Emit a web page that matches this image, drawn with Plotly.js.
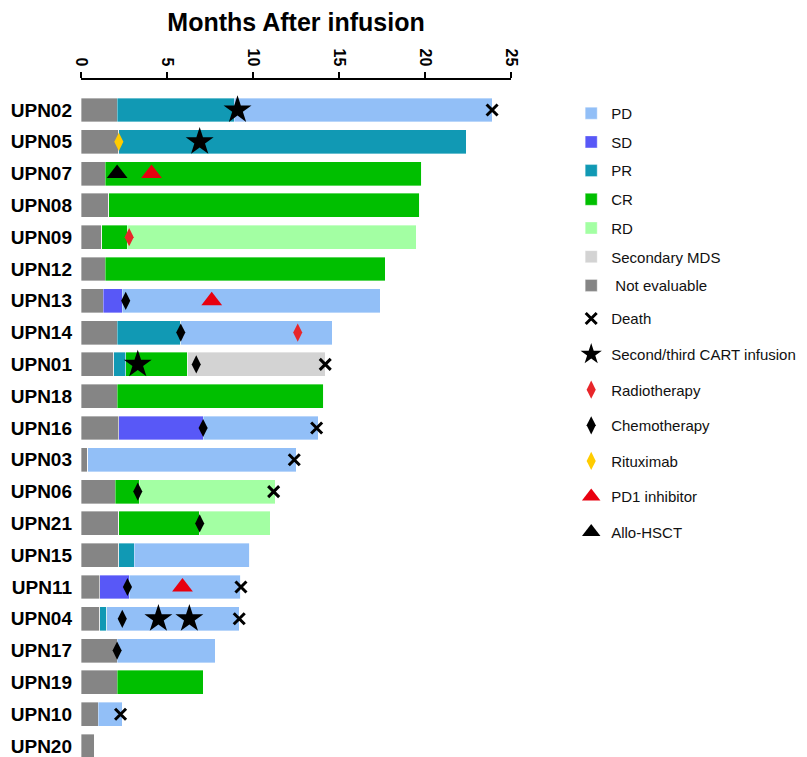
<!DOCTYPE html>
<html>
<head>
<meta charset="utf-8">
<script src="https://cdn.plot.ly/plotly-3.0.1.min.js"></script>
<style>html,body{margin:0;padding:0;background:#fff;}#chart{width:807px;height:757px;}</style>
</head>
<body>
<div id="chart"></div>
<script>
// Patients (top to bottom)
const patients = ['UPN02','UPN05','UPN07','UPN08','UPN09','UPN12','UPN13','UPN14','UPN01','UPN18','UPN16','UPN03','UPN06','UPN21','UPN15','UPN11','UPN04','UPN17','UPN19','UPN10','UPN20'];

// Durations (months) of each state, per patient, stacked in this order
const notEvaluable = [2.1,2.2,1.4,1.6,1.2,1.4,1.3,2.1,1.9,2.1,2.2,0.4,2.0,2.2,2.2,1.1,1.1,2.1,2.1,1.0,0.8];
const sdDur        = [0,  0,  0,  0,  0,  0,  1.1,0,  0,  0,  4.9,0,  0,  0,  0,  1.7,0,  0,  0,  0,  0];
const prDur        = [6.8,20.2,0, 0,  0,  0,  0,  3.7,0.7,0,  0,  0,  0,  0,  0.9,0,  0.4,0,  0,  0,  0];
const crDur        = [0,  0,  18.4,18.1,1.5,16.3,0,0, 3.6,12.0,0, 0,  1.4,4.7,0,  0,  0,  0,  5.0,0,  0];
const pdDur        = [15.0,0, 0,  0,  0,  0,  15.0,8.8,0, 0,  6.7,12.1,0, 0,  6.7,6.5,7.7,5.7,0, 1.4,0];
const rdDur        = [0,  0,  0,  0,  16.8,0, 0,  0,  0,  0,  0,  0,  7.9,4.1,0,  0,  0,  0,  0,  0,  0];
const mdsDur       = [0,  0,  0,  0,  0,  0,  0,  0,  8.0,0,  0,  0,  0,  0,  0,  0,  0,  0,  0,  0,  0];

// Events (month, patient)
const deathX = [23.9,14.2,13.7,12.4,11.2,9.3,9.2,2.3];
const deathY = ['UPN02','UPN01','UPN16','UPN03','UPN06','UPN11','UPN04','UPN10'];
const cartX  = [9.1,6.9,3.3,4.5,6.3];
const cartY  = ['UPN02','UPN05','UPN01','UPN04','UPN04'];
const radioX = [2.8,12.6];
const radioY = ['UPN09','UPN14'];
const chemoX = [2.6,5.8,6.7,7.1,3.3,6.9,2.7,2.4,2.1];
const chemoY = ['UPN13','UPN14','UPN01','UPN16','UPN06','UPN21','UPN11','UPN04','UPN17'];
const rituxX = [2.2];
const rituxY = ['UPN05'];
const pd1X   = [4.1,7.6,5.9];
const pd1Y   = ['UPN07','UPN13','UPN11'];
const alloX  = [2.1];
const alloY  = ['UPN07'];

const xTicks = [0,5,10,15,20,25];

const FONT = 'Arial, "Liberation Sans", Helvetica, sans-serif';

function bar(name, vals, color, rank) {
  return {type:'bar', orientation:'h', name:name, x:vals, y:patients,
    marker:{color:color, line:{color:'rgba(255,255,255,0.6)', width:0.6}},
    legend:'legend', legendrank:rank, legendgroup:'g'+rank, hoverinfo:'x+name'};
}
function pts(name, xs, ys, symbol, size, color, rank, extra) {
  const m = Object.assign({symbol:symbol, size:size, color:color, line:{width:0}}, extra||{});
  return {type:'scatter', mode:'markers', name:name, x:xs, y:ys, marker:m,
    legend:'legend2', legendrank:rank, legendgroup:'g'+rank, cliponaxis:false};
}

const data = [
  bar(' Not evaluable', notEvaluable, '#858585', 7),
  bar('SD', sdDur, '#5858F7', 2),
  bar('PR', prDur, '#1199B4', 3),
  bar('CR', crDur, '#00BF00', 4),
  bar('PD', pdDur, '#92BFF7', 1),
  bar('RD', rdDur, '#A3FFA3', 5),
  bar('Secondary MDS', mdsDur, '#D3D3D3', 6),
  pts('Death', deathX, deathY, 'x-thin', 11, '#000', 8, {line:{width:3, color:'#000'}}),
  pts('Second/third CART infusion', cartX, cartY, 'star', 21, '#000', 9),
  pts('Radiotherapy', radioX, radioY, 'diamond-tall', 13, '#E8262A', 10),
  pts('Chemotherapy', chemoX, chemoY, 'diamond-tall', 13, '#000', 11),
  pts('Rituximab', rituxX, rituxY, 'diamond-tall', 13, '#FFCC00', 12),
  pts('PD1 inhibitor', pd1X, pd1Y, 'triangle-up', 18, '#E8000F', 13),
  pts('Allo-HSCT', alloX, alloY, 'triangle-up', 18, '#000', 14)
];

const legendFont = {family:FONT, size:15, color:'#111'};
const layout = {
  width:807, height:757,
  margin:{l:81, r:296, t:80, b:0, pad:0},
  paper_bgcolor:'#fff', plot_bgcolor:'#fff',
  font:{family:FONT, color:'#000'},
  barmode:'stack', bargap:0.25,
  title:{text:'Months After infusion', font:{family:FONT, size:25, weight:'bold', color:'#000'},
    x:0.5, xref:'paper', xanchor:'center', y:0.97, yref:'container', yanchor:'middle'},
  xaxis:{side:'top', range:[0,25], tickvals:xTicks, ticktext:xTicks.map(String),
    tickangle:90, tickfont:{family:FONT, size:16, weight:'bold', color:'#000'},
    showline:true, linecolor:'#000', linewidth:2, ticks:'outside', ticklen:6, tickwidth:2, tickcolor:'#000',
    showgrid:false, zeroline:false, fixedrange:true},
  yaxis:{type:'category', categoryorder:'array', categoryarray:patients,
    range:[20.346, -0.943], showline:false, showgrid:false, zeroline:false, ticks:'',
    tickfont:{family:FONT, size:19, weight:'bold', color:'#000'}, ticklabelstandoff:8, fixedrange:true},
  showlegend:true,
  legend:{x:1.14, xanchor:'left', y:0.975, yanchor:'top', yref:'paper',
    font:legendFont, tracegroupgap:6.2, itemwidth:30,
    bgcolor:'rgba(0,0,0,0)', traceorder:'grouped'},
  legend2:{x:1.14, xanchor:'left', y:0.6717, yanchor:'top', yref:'paper',
    font:legendFont, tracegroupgap:13.1, itemwidth:30,
    bgcolor:'rgba(0,0,0,0)', traceorder:'grouped'}
};

Plotly.newPlot('chart', data, layout, {displayModeBar:false, staticPlot:true});
</script>
</body>
</html>
